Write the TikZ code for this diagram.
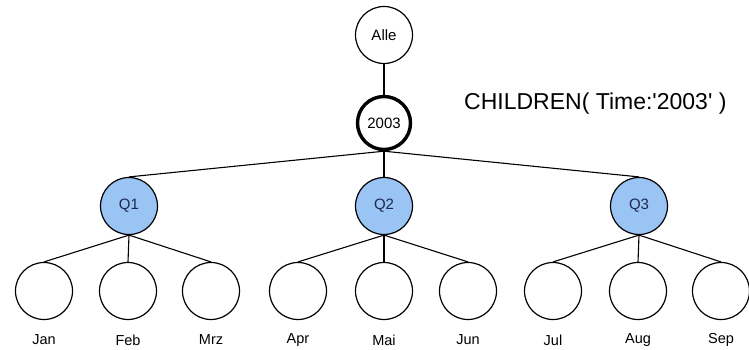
\documentclass[tikz,border=0pt]{standalone}
\usepackage{fontspec}
\setmainfont{Liberation Sans}
\begin{document}
\begin{tikzpicture}[x=1pt,y=-1pt,
  member/.style={circle,draw=black,line width=1.2pt,inner sep=0pt,minimum size=57pt,
    font=\fontsize{15}{17}\selectfont},
  current/.style={member,line width=3.4pt,minimum size=53pt},
  quarter/.style={member,fill=qblue,text=qtext},
  month/.style={member,minimum size=57pt},
  monthname/.style={inner sep=0pt,font=\fontsize{14.5}{16}\selectfont},
  edge/.style={line width=1.1pt}]
\definecolor{qblue}{RGB}{153,196,243}
\definecolor{qtext}{RGB}{30,40,80}
\useasboundingbox (0,0) rectangle (749,349);

% hierarchy levels
\node[member] (alle) at (384,35) {Alle};
\node[current] (y2003) at (384,123) {2003};
\node[quarter] (q1) at (129,206) {Q1};
\node[quarter] (q2) at (384,206) {Q2};
\node[quarter] (q3) at (639,206) {Q3};

% months
\foreach \name/\x in {jan/44,feb/128,mrz/211,apr/298,mai/384,jun/468,jul/553,aug/638,sep/721}
  \node[month] (\name) at (\x,291) {};
\foreach \name/\txt in {jan/Jan,feb/Feb,mrz/Mrz,apr/Apr,mai/Mai,jun/Jun,jul/Jul,aug/Aug,sep/Sep}
  \node[monthname] (\name-l) at ([yshift=-49pt]\name.center) {\txt};

% query text
\node[anchor=west,inner sep=0pt,font=\fontsize{23}{26}\selectfont] (query) at (464,104)
  {CHILDREN( Time:\textquotesingle 2003\textquotesingle\ )};

% connectors
\draw[edge] (alle.south) -- (y2003.north);
\foreach \q in {q1,q2,q3}
  \draw[edge] (y2003.south) -- (\q.north);
\foreach \m in {jan,feb,mrz} \draw[edge] (q1.south) -- (\m.north);
\foreach \m in {apr,mai,jun} \draw[edge] (q2.south) -- (\m.north);
\foreach \m in {jul,aug,sep} \draw[edge] (q3.south) -- (\m.north);
\end{tikzpicture}
\end{document}
